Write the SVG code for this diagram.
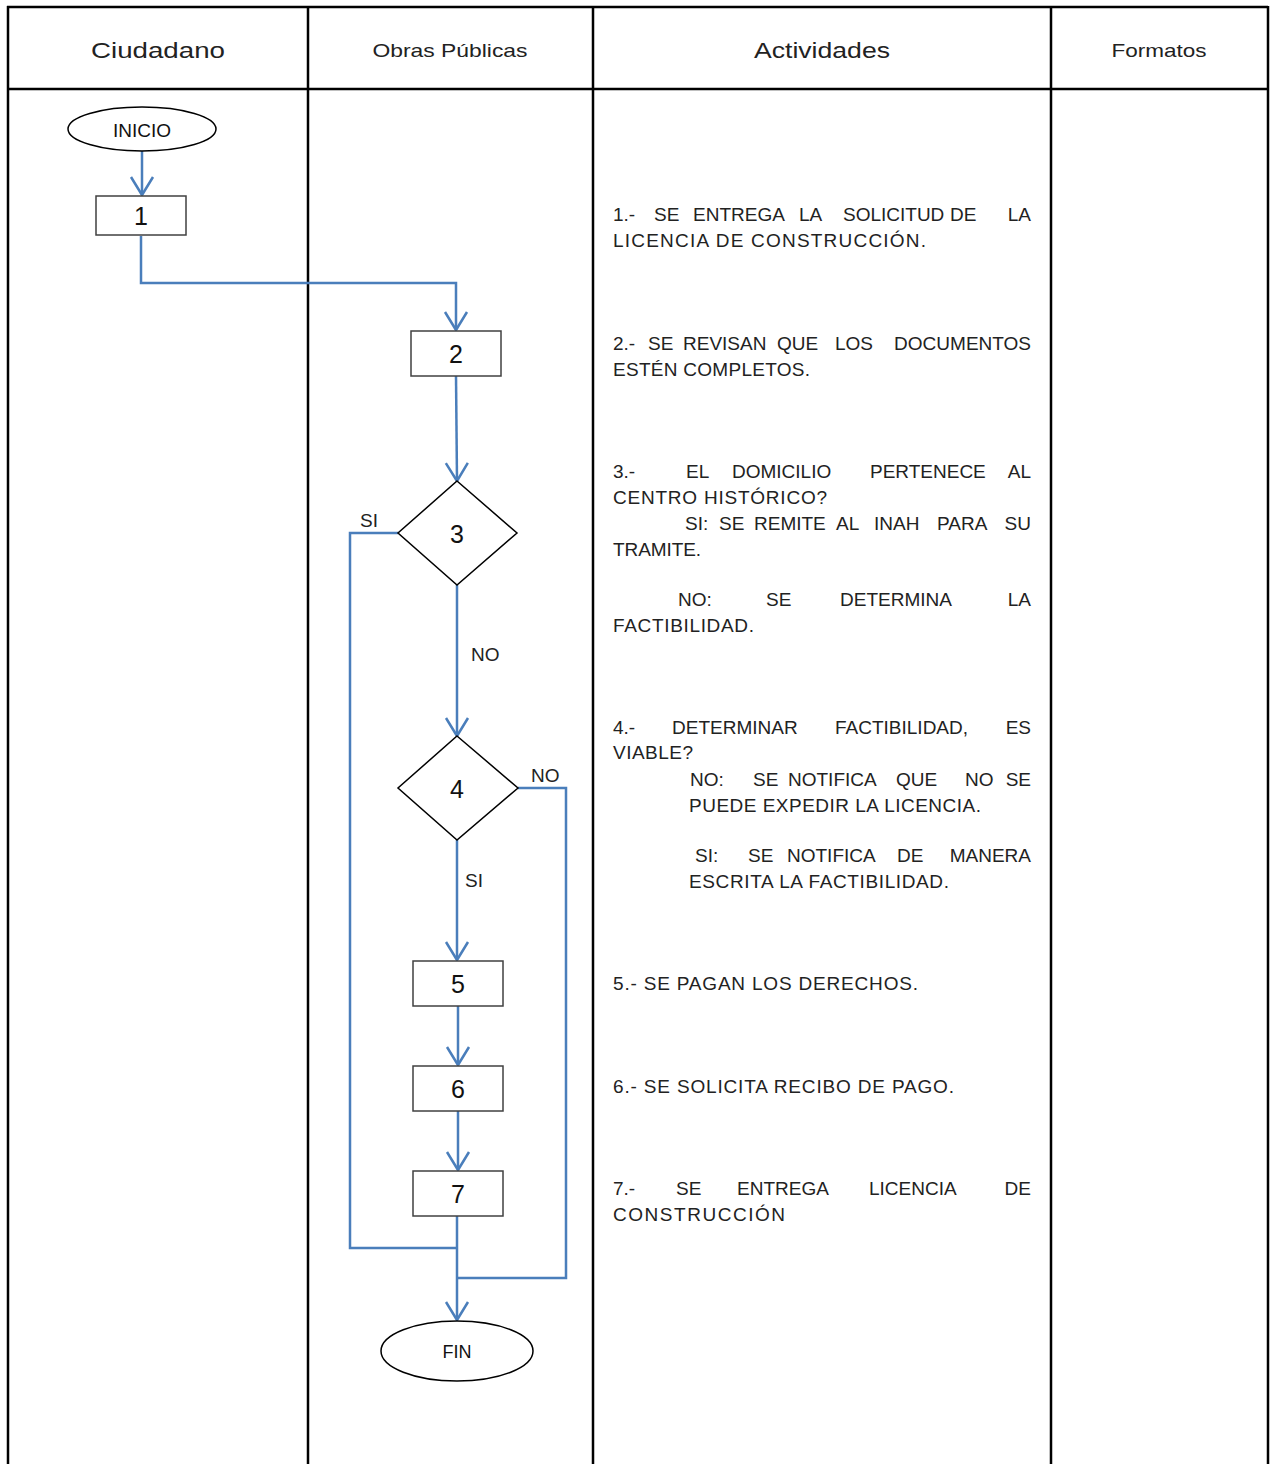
<svg xmlns="http://www.w3.org/2000/svg" width="1274" height="1464" viewBox="0 0 1274 1464">
<style>
.grid{stroke:#000;stroke-width:2.5;fill:none}
.hdr{font-family:"Liberation Sans",Arial,sans-serif;fill:#222;text-anchor:middle}
.act{font-family:"Liberation Sans",Arial,sans-serif;font-size:19px;fill:#222}
.e{text-anchor:end}
.box{fill:#fff;stroke:#404040;stroke-width:1.5}
.dia{fill:#fff;stroke:#000;stroke-width:1.5}
.ntx{font-family:"Liberation Sans",Arial,sans-serif;fill:#111;text-anchor:middle}
.con{fill:none;stroke:#4a7ebb;stroke-width:2.5}
.lbl{font-family:"Liberation Sans",Arial,sans-serif;font-size:19px;fill:#222}
</style>
<defs>
<marker id="arr" viewBox="-2 -2 24 26" markerWidth="24" markerHeight="26" refX="18" refY="11" orient="auto" markerUnits="userSpaceOnUse">
<path d="M0,0 L18,11 L0,22" fill="none" stroke="#4a7ebb" stroke-width="2.5"/>
</marker>
</defs>
<rect width="1274" height="1464" fill="#fff"/>
<g id="table">
<line class="grid" x1="7" y1="7" x2="1268" y2="7"/>
<line class="grid" x1="7" y1="89" x2="1268" y2="89"/>
<line class="grid" x1="8" y1="6" x2="8" y2="1464"/>
<line class="grid" x1="308" y1="7" x2="308" y2="1464"/>
<line class="grid" x1="593" y1="7" x2="593" y2="1464"/>
<line class="grid" x1="1051" y1="7" x2="1051" y2="1464"/>
<line class="grid" x1="1268" y1="6" x2="1268" y2="1464"/>
<text class="hdr" x="158" y="58" font-size="22" textLength="134" lengthAdjust="spacingAndGlyphs">Ciudadano</text>
<text class="hdr" x="450" y="57" font-size="19" textLength="155" lengthAdjust="spacingAndGlyphs">Obras Públicas</text>
<text class="hdr" x="822" y="58" font-size="22" textLength="136" lengthAdjust="spacingAndGlyphs">Actividades</text>
<text class="hdr" x="1159" y="57" font-size="19" textLength="95" lengthAdjust="spacingAndGlyphs">Formatos</text>
</g>
<g id="activities">
<text class="act" y="221"><tspan x="613">1.-</tspan><tspan x="654">SE</tspan><tspan x="693">ENTREGA</tspan><tspan x="799">LA</tspan><tspan x="843">SOLICITUD</tspan><tspan x="950">DE</tspan></text>
<text class="act e" x="1031" y="221">LA</text>
<text class="act" x="613" y="247" textLength="313" lengthAdjust="spacing">LICENCIA DE CONSTRUCCIÓN.</text>
<text class="act" y="350"><tspan x="613">2.-</tspan><tspan x="648">SE</tspan><tspan x="683">REVISAN</tspan><tspan x="777">QUE</tspan><tspan x="835">LOS</tspan></text>
<text class="act e" x="1031" y="350">DOCUMENTOS</text>
<text class="act" x="613" y="376" textLength="197" lengthAdjust="spacing">ESTÉN COMPLETOS.</text>
<text class="act" y="478"><tspan x="613">3.-</tspan><tspan x="686">EL</tspan><tspan x="732">DOMICILIO</tspan><tspan x="870">PERTENECE</tspan></text>
<text class="act e" x="1031" y="478">AL</text>
<text class="act" x="613" y="504" textLength="214" lengthAdjust="spacing">CENTRO HISTÓRICO?</text>
<text class="act" y="530"><tspan x="685">SI:</tspan><tspan x="719">SE</tspan><tspan x="754">REMITE</tspan><tspan x="836">AL</tspan><tspan x="874">INAH</tspan><tspan x="937">PARA</tspan></text>
<text class="act e" x="1031" y="530">SU</text>
<text class="act" x="613" y="556" textLength="88" lengthAdjust="spacing">TRAMITE.</text>
<text class="act" y="606"><tspan x="678">NO:</tspan><tspan x="766">SE</tspan><tspan x="840">DETERMINA</tspan></text>
<text class="act e" x="1031" y="606">LA</text>
<text class="act" x="613" y="632" textLength="141" lengthAdjust="spacing">FACTIBILIDAD.</text>
<text class="act" y="734"><tspan x="613">4.-</tspan><tspan x="672">DETERMINAR</tspan><tspan x="835">FACTIBILIDAD,</tspan></text>
<text class="act e" x="1031" y="734">ES</text>
<text class="act" x="613" y="759" textLength="80" lengthAdjust="spacing">VIABLE?</text>
<text class="act" y="786"><tspan x="690">NO:</tspan><tspan x="753">SE</tspan><tspan x="788">NOTIFICA</tspan><tspan x="896">QUE</tspan><tspan x="965">NO</tspan></text>
<text class="act e" x="1031" y="786">SE</text>
<text class="act" x="689" y="812" textLength="292" lengthAdjust="spacing">PUEDE EXPEDIR LA LICENCIA.</text>
<text class="act" y="862"><tspan x="695">SI:</tspan><tspan x="748">SE</tspan><tspan x="787">NOTIFICA</tspan><tspan x="897">DE</tspan></text>
<text class="act e" x="1031" y="862">MANERA</text>
<text class="act" x="689" y="888" textLength="260" lengthAdjust="spacing">ESCRITA LA FACTIBILIDAD.</text>
<text class="act" x="613" y="990" textLength="305" lengthAdjust="spacing">5.- SE PAGAN LOS DERECHOS.</text>
<text class="act" x="613" y="1093" textLength="341" lengthAdjust="spacing">6.- SE SOLICITA RECIBO DE PAGO.</text>
<text class="act" y="1195"><tspan x="613">7.-</tspan><tspan x="676">SE</tspan><tspan x="737">ENTREGA</tspan><tspan x="869">LICENCIA</tspan></text>
<text class="act e" x="1031" y="1195">DE</text>
<text class="act" x="613" y="1221" textLength="172" lengthAdjust="spacing">CONSTRUCCIÓN</text>
</g>
<g id="connectors">
<line class="con" x1="142" y1="151" x2="142" y2="195" marker-end="url(#arr)"/>
<polyline class="con" points="141,236 141,283 456,283 456,330" marker-end="url(#arr)"/>
<line class="con" x1="456" y1="376" x2="457" y2="481" marker-end="url(#arr)"/>
<polyline class="con" points="398,533 350,533 350,1248 457,1248"/>
<line class="con" x1="457" y1="585" x2="457" y2="736" marker-end="url(#arr)"/>
<polyline class="con" points="518,788 566,788 566,1278 457,1278"/>
<line class="con" x1="457" y1="840" x2="457" y2="960" marker-end="url(#arr)"/>
<line class="con" x1="458" y1="1006" x2="458" y2="1065" marker-end="url(#arr)"/>
<line class="con" x1="458" y1="1111" x2="458" y2="1170" marker-end="url(#arr)"/>
<line class="con" x1="457" y1="1216" x2="457" y2="1320" marker-end="url(#arr)"/>
<text class="lbl" x="360" y="527">SI</text>
<text class="lbl" x="471" y="661">NO</text>
<text class="lbl" x="531" y="782">NO</text>
<text class="lbl" x="465" y="887">SI</text>
</g>
<g id="inicio">
<ellipse cx="142" cy="129" rx="74" ry="22" fill="#fff" stroke="#000" stroke-width="1.5"/>
<text class="ntx" x="142" y="137" font-size="19">INICIO</text>
</g>
<g id="n1">
<rect class="box" x="96" y="196" width="90" height="39"/>
<text class="ntx" x="141" y="225" font-size="25">1</text>
</g>
<g id="n2">
<rect class="box" x="411" y="331" width="90" height="45"/>
<text class="ntx" x="456" y="363" font-size="25">2</text>
</g>
<g id="n3">
<polygon class="dia" points="457,481 517,533 457,585 398,533"/>
<text class="ntx" x="457" y="543" font-size="25">3</text>
</g>
<g id="n4">
<polygon class="dia" points="457,736 518,788 457,840 398,788"/>
<text class="ntx" x="457" y="798" font-size="25">4</text>
</g>
<g id="n5">
<rect class="box" x="413" y="961" width="90" height="45"/>
<text class="ntx" x="458" y="993" font-size="25">5</text>
</g>
<g id="n6">
<rect class="box" x="413" y="1066" width="90" height="45"/>
<text class="ntx" x="458" y="1098" font-size="25">6</text>
</g>
<g id="n7">
<rect class="box" x="413" y="1171" width="90" height="45"/>
<text class="ntx" x="458" y="1203" font-size="25">7</text>
</g>
<g id="fin">
<ellipse cx="457" cy="1351" rx="76" ry="30" fill="#fff" stroke="#000" stroke-width="1.5"/>
<text class="ntx" x="457" y="1358" font-size="18">FIN</text>
</g>
</svg>
